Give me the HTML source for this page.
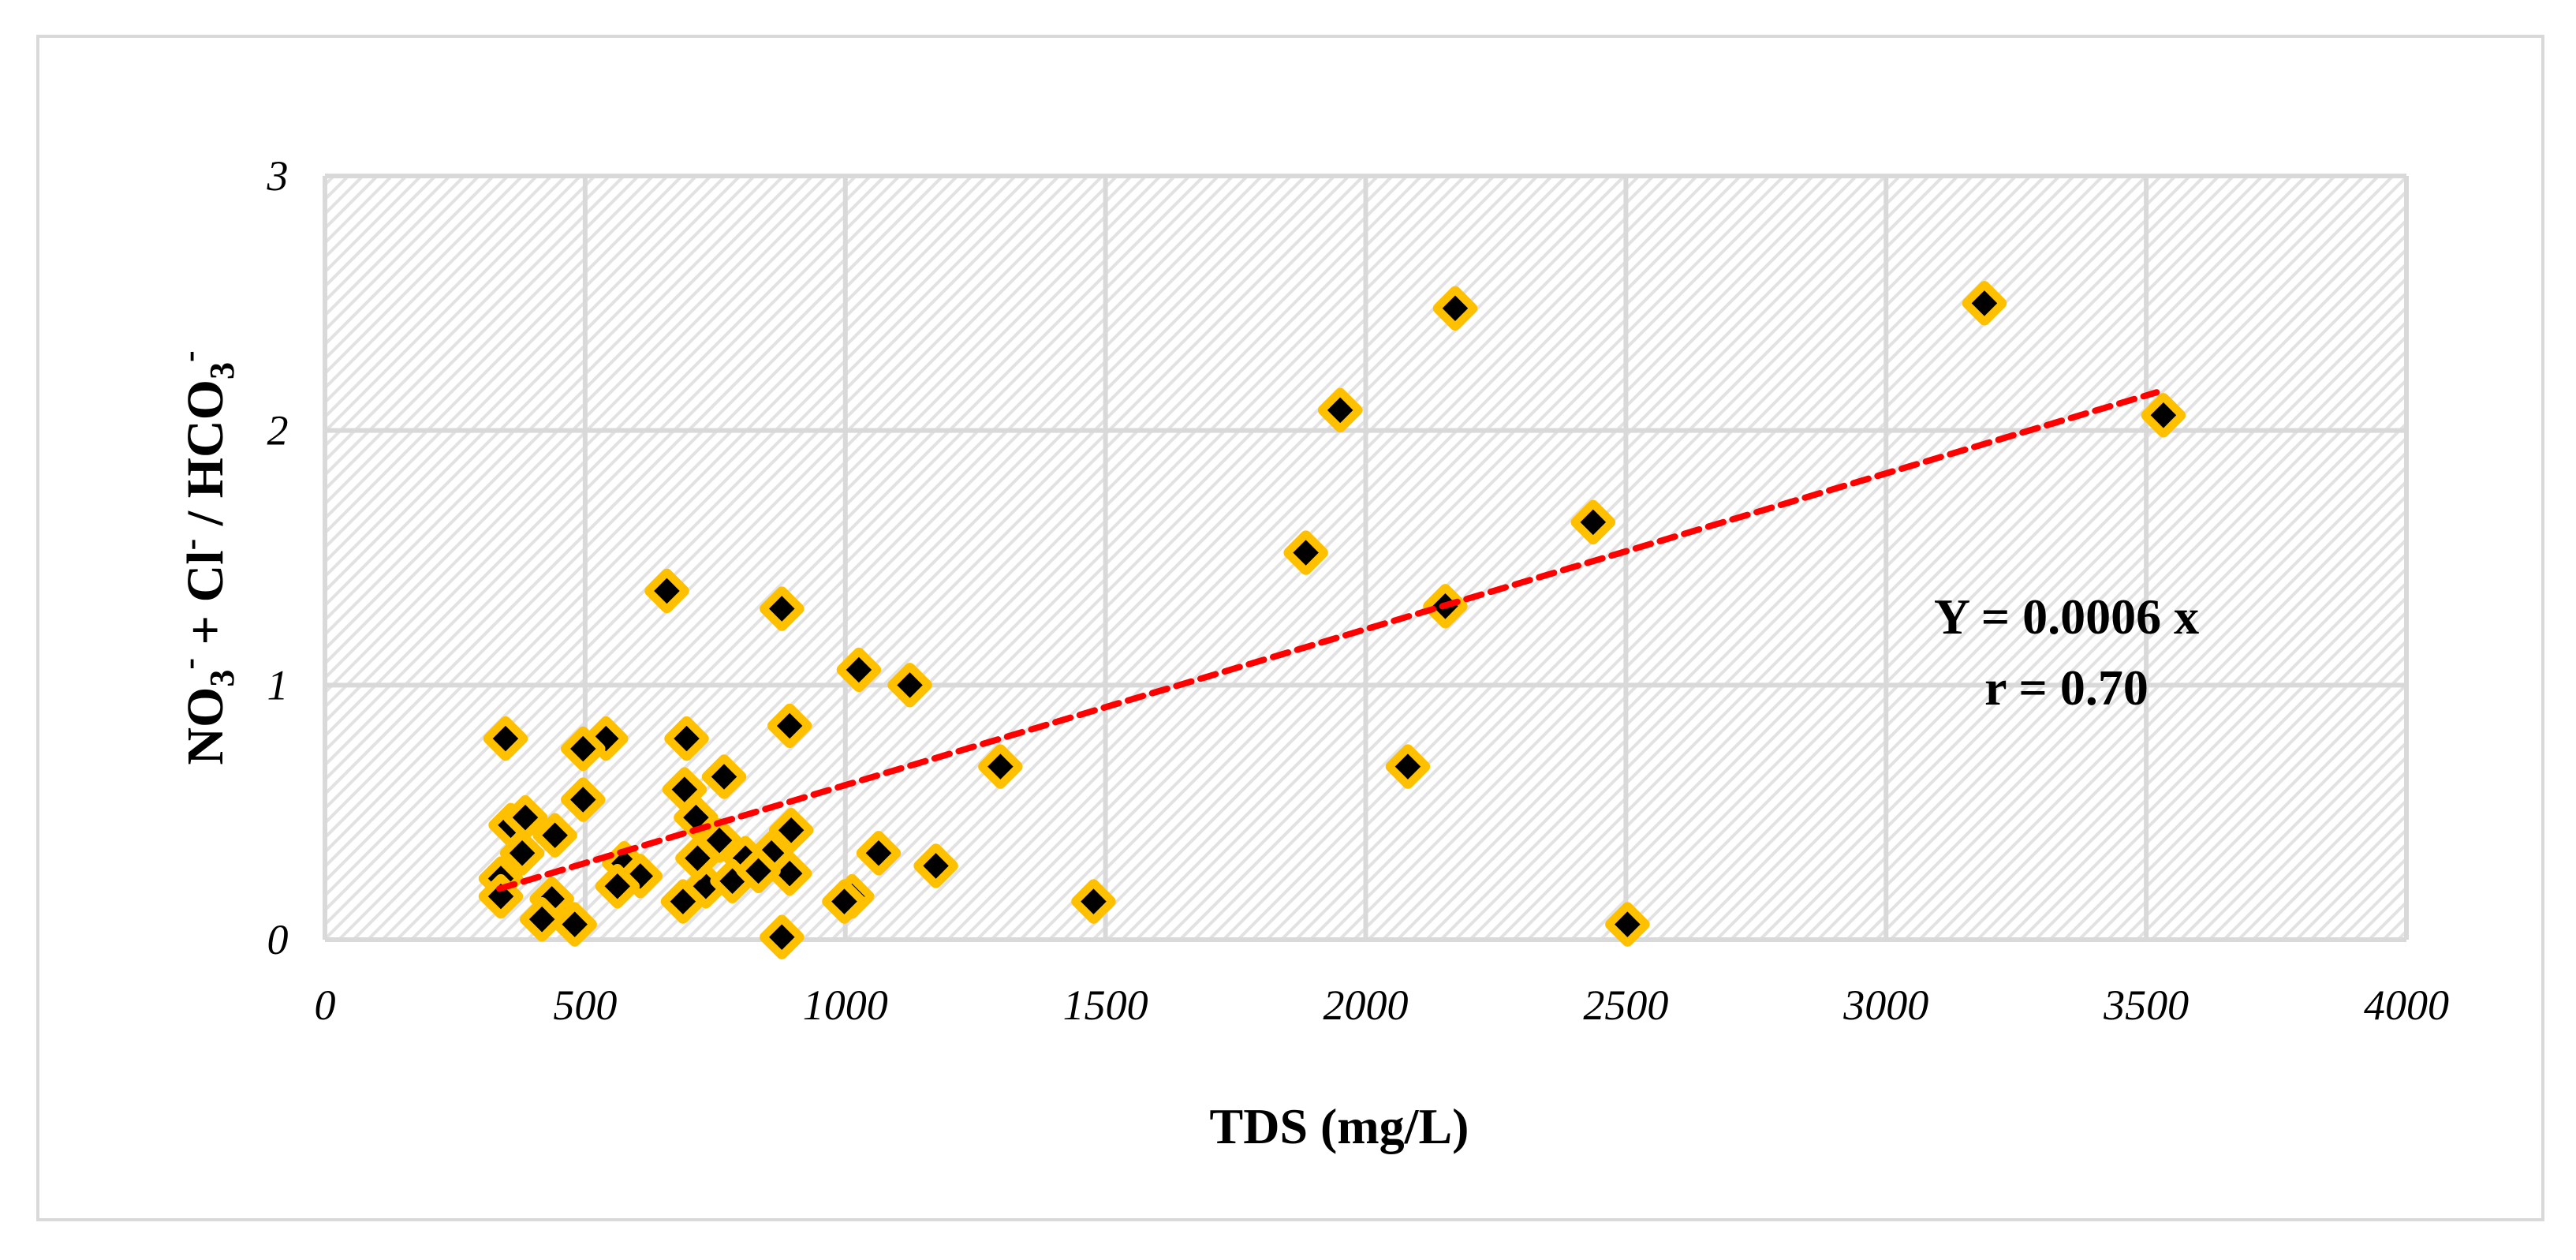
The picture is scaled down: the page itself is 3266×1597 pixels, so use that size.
<!DOCTYPE html>
<html><head><meta charset="utf-8"><style>
html,body{margin:0;padding:0;background:#fff;}
svg{display:block;}
</style></head><body>
<svg id="chart" width="3266" height="1597" viewBox="0 0 3266 1597" xmlns="http://www.w3.org/2000/svg">
<defs>
<pattern id="hatch" patternUnits="userSpaceOnUse" width="13" height="13" patternTransform="rotate(45)">
<rect width="13" height="13" fill="#fff"/>
<rect x="0" y="0" width="4" height="13" fill="#e2e2e2"/>
</pattern>
</defs>
<rect x="48" y="46" width="3176" height="1500" fill="#fff" stroke="#d9d9d9" stroke-width="4"/>
<rect x="412" y="223" width="2639" height="968" fill="url(#hatch)"/>
<g id="grid"></g>
<g id="ticks"></g>
<g id="marks"></g>
<line id="trend" stroke="#ff0000" stroke-width="8" stroke-dasharray="20 12" stroke-linecap="round"/>
<text x="2620" y="803" text-anchor="middle" font-family="Liberation Serif, serif" font-weight="bold" font-size="64">Y = 0.0006 x</text>
<text x="2620" y="893" text-anchor="middle" font-family="Liberation Serif, serif" font-weight="bold" font-size="64">r = 0.70</text>
<text x="1698" y="1449" text-anchor="middle" font-family="Liberation Serif, serif" font-weight="bold" font-size="64">TDS (mg/L)</text>
<text transform="translate(282,707) rotate(-90)" text-anchor="middle" font-family="Liberation Serif, serif" font-weight="bold" font-size="66">NO<tspan font-size="44" dy="14">3</tspan><tspan font-size="44" dy="-42">-</tspan><tspan dy="28"> + Cl</tspan><tspan font-size="44" dy="-26">-</tspan><tspan dy="26"> / HCO</tspan><tspan font-size="44" dy="14">3</tspan><tspan font-size="44" dy="-42">-</tspan></text>
</svg>
<script>
const xValues=[347,2172,3189,1951,3533,2437,1885,2153,657,878,1026,1124,893,695,540,496,1298,2081,767,691,496,713,357,385,442,896,758,379,858,1064,808,575,1174,338,606,893,732,562,783,338,436,688,1013,1477,998,417,480,878,2503,716,833];
const yValues=[0.79,2.48,2.50,2.08,2.06,1.64,1.52,1.31,1.37,1.30,1.06,1.00,0.84,0.79,0.79,0.75,0.68,0.68,0.64,0.59,0.55,0.48,0.45,0.48,0.41,0.43,0.39,0.34,0.34,0.34,0.32,0.30,0.29,0.24,0.25,0.26,0.21,0.21,0.23,0.17,0.16,0.15,0.17,0.15,0.15,0.08,0.06,0.01,0.06,0.32,0.27];
const xTicks=[0,500,1000,1500,2000,2500,3000,3500,4000];
const yTicks=[0,1,2,3];
const trendX=[335,3520];
const trendY=[0.2,2.15];
const NS='http://www.w3.org/2000/svg';
const X0=412,X1=3051,Y0=1191,Y1=223;
const sx=v=>X0+(v-0)/(4000-0)*(X1-X0);
const sy=v=>Y0-(v-0)/(3-0)*(Y0-Y1);
const grid=document.getElementById('grid'),ticks=document.getElementById('ticks'),marks=document.getElementById('marks');
function mk(tag,attrs,parent){const e=document.createElementNS(NS,tag);for(const k in attrs)e.setAttribute(k,attrs[k]);parent.appendChild(e);return e;}
xTicks.forEach(t=>{
  const l=mk('line',{x1:sx(t),x2:sx(t),y1:Y1,y2:Y0,stroke:'#d9d9d9','stroke-width':6},grid);
  
  
  const tx=mk('text',{x:sx(t),y:1292,'text-anchor':'middle','font-family':'Liberation Serif, serif','font-style':'italic','font-size':54},ticks);
  tx.textContent=t;
  
  
});
yTicks.forEach(t=>{
  const l=mk('line',{x1:X0,x2:X1,y1:sy(t),y2:sy(t),stroke:'#d9d9d9','stroke-width':6},grid);
  
  
  const tx=mk('text',{x:352,y:sy(t)+18,'text-anchor':'middle','font-family':'Liberation Serif, serif','font-style':'italic','font-size':54},ticks);
  tx.textContent=t;
  
  
});
xValues.forEach((xv,i)=>{
  const cx=sx(xv),cy=sy(yValues[i]);
  const g=mk('g',{transform:`translate(${cx},${cy}) rotate(45)`},marks);
  
  
  mk('rect',{x:-22,y:-22,width:44,height:44,rx:7,fill:'#ffc000'},g);
  mk('rect',{x:-11.5,y:-11.5,width:23,height:23,fill:'#000'},g);
});
const tr=document.getElementById('trend');
tr.setAttribute('x1',sx(trendX[0]));tr.setAttribute('y1',sy(trendY[0]));
tr.setAttribute('x2',sx(trendX[1]));tr.setAttribute('y2',sy(trendY[1]));
</script>
</body></html>
